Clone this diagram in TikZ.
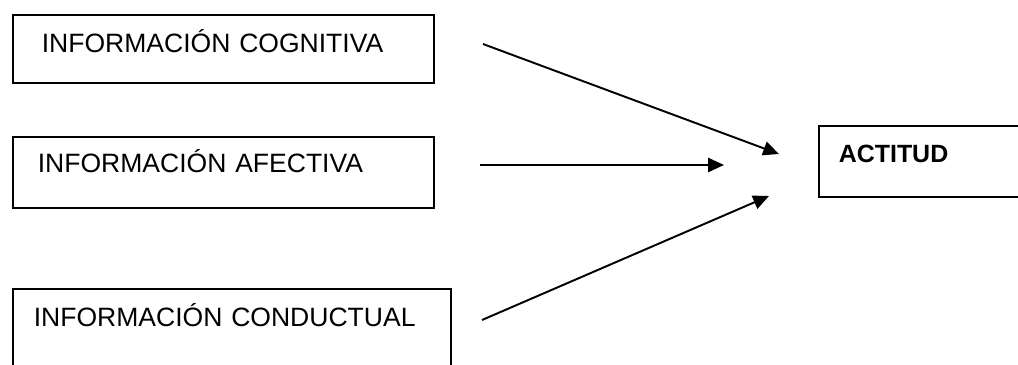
\documentclass[tikz,border=0pt]{standalone}
\usepackage{fontspec}
\setmainfont{Liberation Sans}
\usetikzlibrary{arrows.meta, positioning}

\tikzset{
  infobox/.style={draw, line width=0.9pt, anchor=north west, align=left,
    inner ysep=0pt, inner xsep=0pt, font=\fontsize{15.1}{17}\selectfont},
  flecha/.style={-{Triangle[length=9pt, width=8pt]}, line width=1.1pt}
}

\begin{document}
\begin{tikzpicture}[x=0.02cm, y=-0.02cm]

    \useasboundingbox (0,0) rectangle (1018,365);
    \clip (0,0) rectangle (1018,365);

    \node[infobox, text width=421*0.02cm, text height=0.76cm, text depth=0.60cm] (cog) at (12,14)
        {\hspace*{29\dimexpr0.02cm\relax}INFORMACIÓN COGNITIVA};
    \node[infobox, text width=421*0.02cm, text height=0.72cm, text depth=0.70cm] (afe) at (12,136)
        {\hspace*{25\dimexpr0.02cm\relax}INFORMACIÓN AFECTIVA};
    \node[infobox, text width=438*0.02cm, text height=0.76cm, text depth=1.4cm] (con) at (12,288)
        {\hspace*{21\dimexpr0.02cm\relax}INFORMACIÓN CONDUCTUAL};

    \node[infobox, text width=260*0.02cm, text height=0.74cm, text depth=0.68cm,
          font=\fontsize{14.2}{17}\selectfont\bfseries] (act) at (818,125)
        {\hspace*{20\dimexpr0.02cm\relax}ACTITUD};

    % extremos libres de las flechas
    \coordinate (ini1) at (483,44);
    \coordinate (fin1) at (779,154);
    \coordinate (ini2) at (480,165);
    \coordinate (fin2) at (724,165);
    \coordinate (ini3) at (482,320);
    \coordinate (fin3) at (769,196);

    \draw[flecha] (ini1) -- (fin1);
    \draw[flecha] (ini2) -- (fin2);
    \draw[flecha] (ini3) -- (fin3);

\end{tikzpicture}
\end{document}
